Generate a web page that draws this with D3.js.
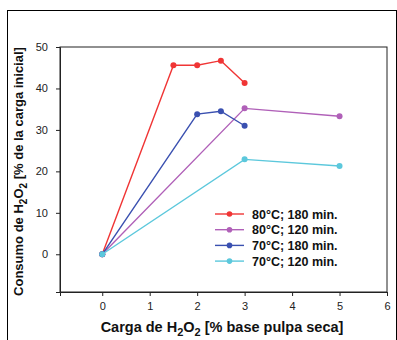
<!DOCTYPE html>
<html><head><meta charset="utf-8">
<script src="https://cdn.jsdelivr.net/npm/d3@7"></script>
<style>body{margin:0;background:#fff}svg{display:block}text{font-family:Arial,"Liberation Sans",sans-serif}</style>
</head><body><svg id="c" width="397" height="340"></svg>
<script>
const seriesNames = ["80°C; 180 min.", "80°C; 120 min.", "70°C; 180 min.", "70°C; 120 min."];
const seriesColors = ["#f03535", "#b060b8", "#3a50b0", "#5cc8dc"];
const xRed = [0, 1.5, 2, 2.5, 3];
const yRed = [0, 45.6, 45.6, 46.7, 41.3];
const xPurple = [0, 3, 5];
const yPurple = [0, 35.2, 33.3];
const xBlue = [0, 2, 2.5, 3];
const yBlue = [0, 33.8, 34.5, 31.0];
const xCyan = [0, 3, 5];
const yCyan = [0, 22.9, 21.3];
const xTicks = [0, 1, 2, 3, 4, 5, 6];
const yTicks = [0, 10, 20, 30, 40, 50];

const series = [
  {name: seriesNames[0], color: seriesColors[0], xs: xRed, ys: yRed},
  {name: seriesNames[1], color: seriesColors[1], xs: xPurple, ys: yPurple},
  {name: seriesNames[2], color: seriesColors[2], xs: xBlue, ys: yBlue},
  {name: seriesNames[3], color: seriesColors[3], xs: xCyan, ys: yCyan}
];

const svg = d3.select("#c");
const L = 60, R = 387, T = 47, B = 292;
const x = d3.scaleLinear().domain([-0.89, 6]).range([L, R]);
const y = d3.scaleLinear().domain([-9.1, 50]).range([B, T]);

// outer frame
svg.append("rect").attr("x", 7.5).attr("y", 10.5).attr("width", 389).attr("height", 340)
  .attr("fill", "none").attr("stroke", "#000").attr("stroke-width", 1);

// plot box
svg.append("rect").attr("x", L).attr("y", T).attr("width", R - L).attr("height", B - T)
  .attr("fill", "none").attr("stroke", "#222").attr("stroke-width", 1);

const xa = svg.append("g").attr("transform", `translate(0,${B})`)
  .call(d3.axisBottom(x).tickValues(xTicks).tickSize(4).tickPadding(6).tickFormat(d3.format("d")));
const ya = svg.append("g").attr("transform", `translate(${L},0)`)
  .call(d3.axisLeft(y).tickValues(yTicks).tickSize(4).tickPadding(8).tickFormat(d3.format("d")));
[xa, ya].forEach(a => {
  a.select(".domain").attr("stroke", "#222");
  a.selectAll(".tick line").attr("stroke", "#222");
  a.selectAll("text").attr("font-size", 11).attr("fill", "#222").attr("font-family", "Arial, 'Liberation Sans', sans-serif");
});

const line = d3.line().x(d => x(d[0])).y(d => y(d[1]));
series.forEach(s => {
  const pts = s.xs.map((v, i) => [v, s.ys[i]]);
  svg.append("path").datum(pts).attr("d", line).attr("fill", "none")
    .attr("stroke", s.color).attr("stroke-width", 1.4);
  svg.selectAll(null).data(pts).enter().append("circle")
    .attr("cx", d => x(d[0])).attr("cy", d => y(d[1])).attr("r", 3)
    .attr("fill", s.color);
});

// legend
const lg = svg.append("g");
series.forEach((s, i) => {
  const yy = 214 + i * 15.7;
  lg.append("line").attr("x1", 215).attr("x2", 244).attr("y1", yy).attr("y2", yy)
    .attr("stroke", s.color).attr("stroke-width", 1.4);
  lg.append("circle").attr("cx", 229.5).attr("cy", yy).attr("r", 2.8).attr("fill", s.color);
  lg.append("text").attr("x", 252).attr("y", yy + 4.5).attr("font-size", 12.5)
    .attr("font-weight", "bold").attr("fill", "#111").text(s.name);
});

// x label
const xl = svg.append("text").attr("x", 222).attr("y", 332).attr("text-anchor", "middle")
  .attr("font-size", 14.5).attr("font-weight", "bold").attr("fill", "#111");
xl.append("tspan").text("Carga de H");
xl.append("tspan").attr("dy", 4).attr("font-size", 11).text("2");
xl.append("tspan").attr("dy", -4).text("O");
xl.append("tspan").attr("dy", 4).attr("font-size", 11).text("2");
xl.append("tspan").attr("dy", -4).text(" [% base pulpa seca]");

// y label
const yl = svg.append("text").attr("transform", `translate(23,${(T + B) / 2 + 2}) rotate(-90)`)
  .attr("text-anchor", "middle").attr("font-size", 13).attr("font-weight", "bold").attr("fill", "#111");
yl.append("tspan").text("Consumo de H");
yl.append("tspan").attr("dy", 4).attr("font-size", 10).text("2");
yl.append("tspan").attr("dy", -4).text("O");
yl.append("tspan").attr("dy", 4).attr("font-size", 10).text("2");
yl.append("tspan").attr("dy", -4).text(" [% de la carga inicial]");
</script></body></html>
